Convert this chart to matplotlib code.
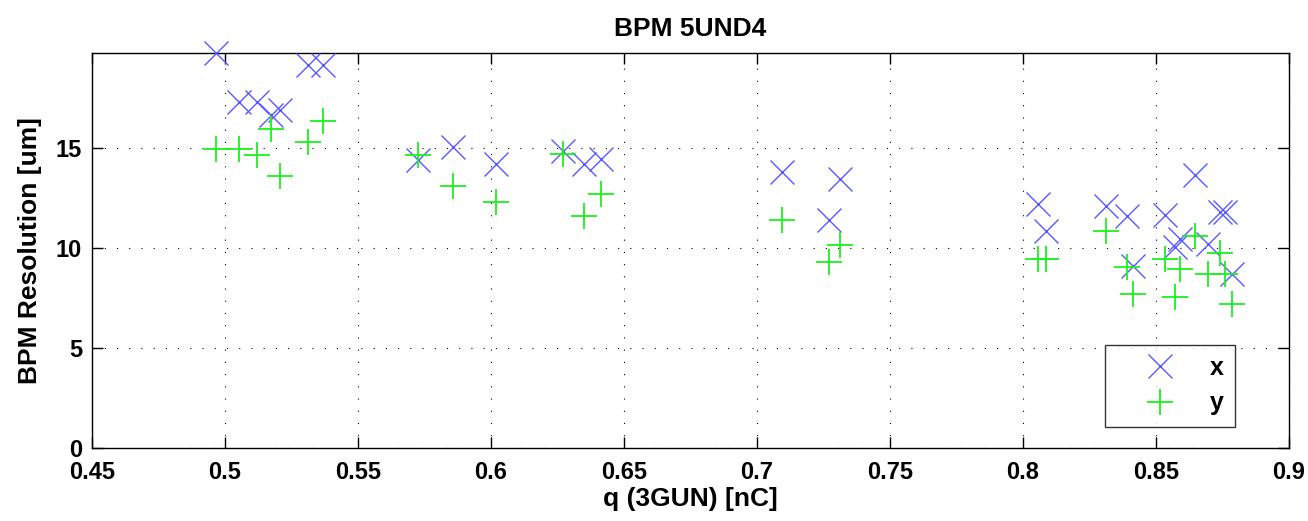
import matplotlib
matplotlib.use("Agg")
import matplotlib.pyplot as plt
import numpy as np

# charge values (shared by both series)
q = [0.4966, 0.5055, 0.5121, 0.5174, 0.5207, 0.5313, 0.5371,
     0.5727, 0.5859, 0.6020, 0.6272, 0.6350, 0.6416,
     0.7096, 0.7272, 0.7312, 0.8058, 0.8085, 0.8312,
     0.8391, 0.8415, 0.8534, 0.8573, 0.8589, 0.8647, 0.8696,
     0.8740, 0.8759, 0.8787]
res_x = [19.77, 17.32, 17.32, 16.65, 16.93, 19.15, 19.15,
         14.40, 15.07, 14.23, 14.87, 14.23, 14.48,
         13.82, 11.40, 13.48, 12.23, 10.87, 12.10,
         11.60, 9.10, 11.65, 10.07, 10.48, 13.65, 10.23,
         11.82, 11.82, 8.73]
res_y = [14.98, 14.98, 14.65, 15.98, 13.60, 15.32, 16.37,
         14.65, 13.12, 12.32, 14.70, 11.60, 12.73,
         11.40, 9.32, 10.15, 9.48, 9.48, 10.87,
         9.07, 7.73, 9.48, 7.57, 8.98, 10.60, 8.73,
         9.77, 8.73, 7.23]

xticks = [0.45, 0.5, 0.55, 0.6, 0.65, 0.7, 0.75, 0.8, 0.85, 0.9]
xticklabels = ["0.45", "0.5", "0.55", "0.6", "0.65", "0.7", "0.75", "0.8", "0.85", "0.9"]
yticks = [0, 5, 10, 15]

plt.rcParams['font.family'] = ['Liberation Sans', 'DejaVu Sans']
plt.rcParams['font.weight'] = 'bold'

fig = plt.figure(figsize=(13.08, 5.21), dpi=100)
ax = fig.add_axes([91.7/1308, 72.7/521, (1289-91.7)/1308, (448.3-53)/521])

ax.plot(q, res_x, linestyle='none', marker='x', markersize=17, markeredgewidth=1.0,
        color=(0.35, 0.35, 1.0), label='x', clip_on=False, zorder=3)
ax.plot(q, res_y, linestyle='none', marker='+', markersize=19, markeredgewidth=1.3,
        color=(0.1, 0.95, 0.1), label='y', clip_on=False, zorder=3)

ax.set_xlim(0.45, 0.9)
ax.set_ylim(0, max(res_x))
ax.set_xticks(xticks)
ax.set_xticklabels(xticklabels)
ax.set_yticks(yticks)
ax.grid(True, color='black', linestyle=(0, (1, 10)), linewidth=0.8)
ax.tick_params(direction='in', length=8, width=1, top=True, right=True,
               labelsize=17)
ax.tick_params(axis='x', pad=9)
ax.tick_params(axis='y', pad=7)
for s in ax.spines.values():
    s.set_linewidth(1.0)
    s.set_color('black')

ax.set_title('BPM 5UND4', fontsize=19, fontweight='bold', pad=12)
ax.set_xlabel('q (3GUN) [nC]', fontsize=19, fontweight='bold', labelpad=2)
ax.set_ylabel('BPM Resolution [um]', fontsize=19, fontweight='bold', labelpad=10)

leg = ax.legend(loc='lower right',
                bbox_to_anchor=((1235-91.7)/(1289-91.7), (448.3-426.7)/395.3),
                fontsize=18, frameon=True, fancybox=False, edgecolor='black',
                handlelength=3.5, handletextpad=0.25, borderpad=0.45, labelspacing=0.45,
                borderaxespad=0)
leg.get_frame().set_linewidth(1.0)
leg.set_zorder(5)

fig.savefig('out.png', dpi=100, facecolor='white')
